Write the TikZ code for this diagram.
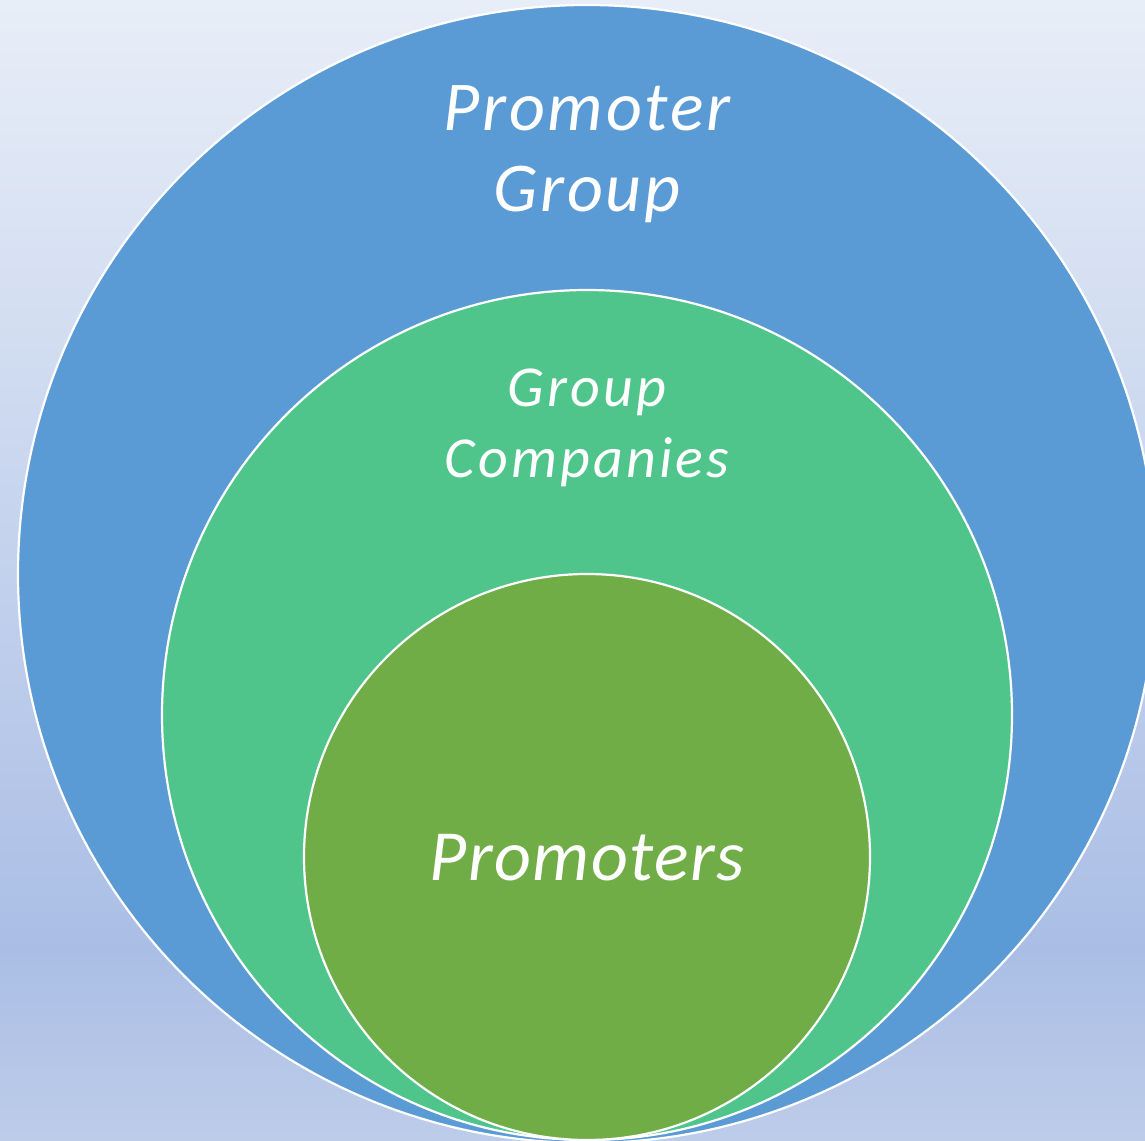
\documentclass[tikz,border=0pt]{standalone}
\usepackage{fontspec}
\setmainfont{Carlito}
\definecolor{bgtop}{HTML}{E8EEF8}
\definecolor{bgmid}{HTML}{AABEE5}
\definecolor{bgbot}{HTML}{BDCCE9}
\definecolor{outerblue}{HTML}{5B9BD5}
\definecolor{midgreen}{HTML}{4FC58C}
\definecolor{innergreen}{HTML}{70AD47}
\tikzset{
  ring/.style={circle, draw=white, line width=2.2pt, inner sep=0pt},
  label/.style={text=white, align=center}
}
\begin{document}
\begin{tikzpicture}[x=1pt, y=-1pt]
  \useasboundingbox (0,0) rectangle (1145,1140);
  \begin{scope}
    \clip (0,0) rectangle (1145,1140);
    % backdrop: pale at the top, deepest blue low down, lighter again at the foot
    \fill[top color=bgtop, bottom color=bgmid] (0,0) rectangle (1145,950);
    \fill[top color=bgmid, bottom color=bgbot] (0,949) rectangle (1145,1140);
    \node[ring, fill=outerblue, minimum size=1138pt] (outer) at (587,574) {};
    \node[ring, fill=midgreen, minimum size=850pt] (middle) at (587,715) {};
    \node[ring, fill=innergreen, minimum size=566pt] (inner) at (587,857) {};
  \end{scope}
  \node[label, font=\itshape\fontsize{70}{81}\selectfont\addfontfeature{LetterSpace=4}] (tOuter) at (587,154) {Promoter\\Group};
  \node[label, font=\itshape\fontsize{58}{71}\selectfont\addfontfeature{LetterSpace=5.5}] (tMiddle) at (587,428) {Group\\Companies};
  \node[label, font=\itshape\fontsize{72}{86}\selectfont\addfontfeature{LetterSpace=2}] (tInner) at (587,858) {Promoters};
\end{tikzpicture}
\end{document}
